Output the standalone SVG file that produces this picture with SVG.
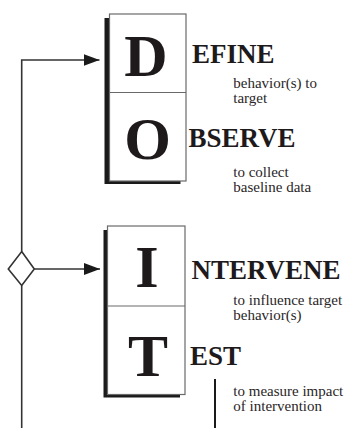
<svg xmlns="http://www.w3.org/2000/svg" width="349" height="428" viewBox="0 0 349 428">
<defs>
<style>
.shadow{fill:#1a1a1a}
.box{fill:#fff;stroke:#6a6a6a;stroke-width:1.2}
.div{stroke:#6a6a6a;stroke-width:1.2}
.big{font-family:"Liberation Serif","Times New Roman",serif;font-weight:bold;font-size:60px;fill:#1e1a1b;text-anchor:middle}
.word{font-family:"Liberation Serif","Times New Roman",serif;font-weight:bold;font-size:27px;fill:#1e1a1b}
.small{font-family:"Liberation Serif","Times New Roman",serif;font-size:15px;fill:#2a2627}
.line{fill:none;stroke:#333;stroke-width:1.6}
</style>
<marker id="arrow" markerWidth="16" markerHeight="12" refX="16" refY="6" orient="auto" markerUnits="userSpaceOnUse">
<path d="M0,0 L16,6 L0,12 Z" fill="#1a1a1a"/>
</marker>
</defs>
<rect width="349" height="428" fill="#fff"/>

<g id="connectors">
<path class="line" d="M21.7,428 V285.5"/>
<path class="line" d="M21.7,251.5 V60 H99.5" marker-end="url(#arrow)"/>
<path class="line" d="M34.3,269 H100" marker-end="url(#arrow)"/>
<path d="M215,379 V428" fill="none" stroke="#1a1a1a" stroke-width="2"/>
</g>

<g id="decision">
<polygon points="21.7,251.5 34.3,269 21.7,285.5 8.3,269" fill="#fff" stroke="#333" stroke-width="1.6"/>
</g>

<g id="node-define">
<rect class="shadow" x="104.5" y="18" width="76" height="166"/>
<rect class="box" x="109.5" y="14" width="76.5" height="167"/>
<line class="div" x1="109.5" y1="92.5" x2="186" y2="92.5"/>
<text class="big" x="146" y="75.5">D</text>
<text class="word" x="192" y="63">EFINE</text>
<text class="small" x="233.3" y="88">behavior(s) to</text>
<text class="small" x="233.3" y="102.5">target</text>
</g>

<g id="node-observe">
<text class="big" x="147.5" y="159">O</text>
<text class="word" x="188.5" y="147.3">BSERVE</text>
<text class="small" x="233.3" y="177">to collect</text>
<text class="small" x="233.3" y="191.5">baseline data</text>
</g>

<g id="node-intervene">
<rect class="shadow" x="103.5" y="230" width="76.5" height="167.5"/>
<rect class="box" x="107.5" y="226" width="77.5" height="168.5"/>
<line class="div" x1="107.5" y1="306" x2="185" y2="306"/>
<text class="big" x="147" y="287">I</text>
<text class="word" x="191.5" y="278.5">NTERVENE</text>
<text class="small" x="233.3" y="305">to influence target</text>
<text class="small" x="233.3" y="319.5">behavior(s)</text>
</g>

<g id="node-test">
<text class="big" x="148" y="376">T</text>
<text class="word" x="190" y="365">EST</text>
<text class="small" x="233.3" y="396">to measure impact</text>
<text class="small" x="233.3" y="410.5">of intervention</text>
</g>
</svg>
